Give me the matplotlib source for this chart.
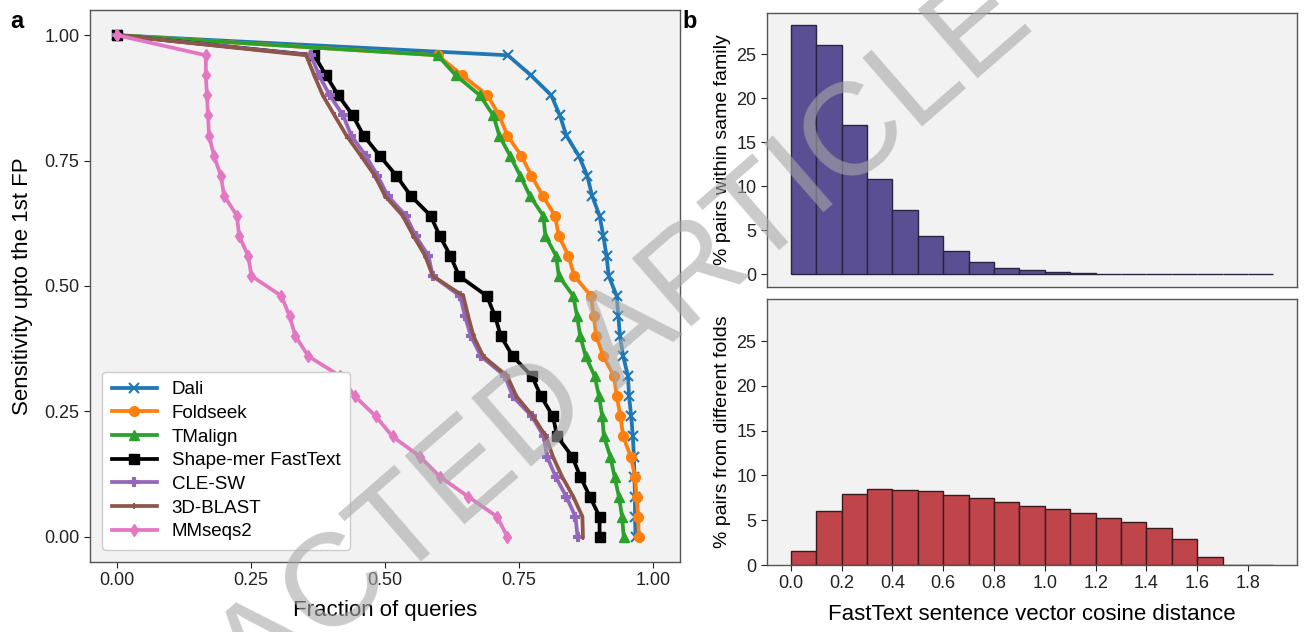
import numpy as np
import matplotlib
matplotlib.use("Agg")
import matplotlib.pyplot as plt

plt.rcParams['font.family'] = ['Liberation Sans', 'DejaVu Sans']

# =========================================================
# DATA  (panel a: sensitivity levels, 1.00 down to 0.00 in 0.04 steps)
# =========================================================
SENS = [1.00, 0.96, 0.92, 0.88, 0.84, 0.80, 0.76, 0.72, 0.68, 0.64, 0.60, 0.56, 0.52,
        0.48, 0.44, 0.40, 0.36, 0.32, 0.28, 0.24, 0.20, 0.16, 0.12, 0.08, 0.04, 0.00]

dali = [0.0, 0.729, 0.772, 0.810, 0.826, 0.838, 0.861, 0.877, 0.886, 0.900, 0.907, 0.913, 0.917,
        0.932, 0.935, 0.938, 0.944, 0.953, 0.955, 0.959, 0.962, 0.964, 0.965, 0.966, 0.966, 0.967]
foldseek = [0.0, 0.598, 0.644, 0.691, 0.713, 0.728, 0.754, 0.773, 0.794, 0.817, 0.824, 0.842, 0.853,
            0.884, 0.889, 0.894, 0.907, 0.927, 0.932, 0.939, 0.944, 0.958, 0.966, 0.969, 0.972, 0.973]
tmalign = [0.0, 0.598, 0.632, 0.677, 0.702, 0.713, 0.733, 0.752, 0.770, 0.795, 0.799, 0.819, 0.824,
           0.851, 0.858, 0.864, 0.874, 0.891, 0.899, 0.905, 0.908, 0.920, 0.928, 0.936, 0.942, 0.945]
shapemer = [0.0, 0.368, 0.390, 0.413, 0.440, 0.460, 0.490, 0.521, 0.548, 0.585, 0.602, 0.622, 0.638,
            0.690, 0.705, 0.716, 0.738, 0.774, 0.791, 0.813, 0.821, 0.849, 0.864, 0.882, 0.900, 0.900]
clesw = [0.0, 0.362, 0.377, 0.397, 0.422, 0.437, 0.464, 0.486, 0.505, 0.539, 0.557, 0.581, 0.589,
         0.640, 0.649, 0.660, 0.679, 0.724, 0.738, 0.774, 0.796, 0.802, 0.818, 0.838, 0.855, 0.859]
blast3d = [0.0, 0.353, 0.368, 0.384, 0.406, 0.428, 0.455, 0.481, 0.500, 0.533, 0.553, 0.575, 0.589,
           0.646, 0.655, 0.665, 0.683, 0.728, 0.745, 0.776, 0.800, 0.813, 0.830, 0.851, 0.868, 0.869]
mmseqs2 = [0.0, 0.166, 0.166, 0.168, 0.170, 0.172, 0.181, 0.194, 0.200, 0.224, 0.228, 0.245, 0.251,
           0.307, 0.322, 0.333, 0.357, 0.417, 0.444, 0.483, 0.514, 0.565, 0.602, 0.655, 0.709, 0.728]

METHODS = ["Dali", "Foldseek", "TMalign", "Shape-mer FastText", "CLE-SW", "3D-BLAST", "MMseqs2"]
SERIES = [dali, foldseek, tmalign, shapemer, clesw, blast3d, mmseqs2]

# panel b: histogram bins and % values
BIN_EDGES = [0.0, 0.1, 0.2, 0.3, 0.4, 0.5, 0.6, 0.7, 0.8, 0.9, 1.0,
             1.1, 1.2, 1.3, 1.4, 1.5, 1.6, 1.7, 1.8, 1.9]
same_family = [28.25, 26.05, 16.9, 10.8, 7.3, 4.4, 2.7, 1.45, 0.7, 0.45, 0.3,
               0.15, 0.08, 0.05, 0.03, 0.02, 0.02, 0.02, 0.02]
diff_folds = [1.57, 6.08, 7.95, 8.47, 8.40, 8.21, 7.84, 7.46, 7.05, 6.64, 6.27,
              5.82, 5.30, 4.81, 4.14, 2.91, 0.90, 0.05, 0.02]
XTICKS_B = [0.0, 0.2, 0.4, 0.6, 0.8, 1.0, 1.2, 1.4, 1.6, 1.8]

# =========================================================
# STYLE
# =========================================================
COLORS = ["#1f77b4", "#ff7f0e", "#2ca02c", "#000000", "#9467bd", "#8c564b", "#e377c2"]
MARKERS = ["x", "o", "^", "s", "P", "|", "d"]
MSIZES = [7, 7, 7, 7, 6, 5, 6]
BG = "#f2f2f2"
SPINE = "#555555"


def style_axes(ax):
    ax.set_facecolor(BG)
    for s in ax.spines.values():
        s.set_color(SPINE)
        s.set_linewidth(1.0)
    ax.tick_params(colors="#222222", labelsize=13, length=4, width=0.8)


fig = plt.figure(figsize=(13.04, 6.32), dpi=100)

# ---------------------------------------------------------
# panel a
# ---------------------------------------------------------
ax = fig.add_axes([0.069, 0.111, 0.4525, 0.873])
style_axes(ax)
for name, xs, c, m, ms in zip(METHODS, SERIES, COLORS, MARKERS, MSIZES):
    ax.plot(xs, SENS, color=c, marker=m, markersize=ms, linewidth=2.7,
            markeredgewidth=1.5 if m in ("x", "|", "P") else 1.0, label=name)
ax.set_xlim(-0.05, 1.05)
ax.set_ylim(-0.05, 1.05)
ax.set_xticks([0.0, 0.25, 0.5, 0.75, 1.0])
ax.set_yticks([0.0, 0.25, 0.5, 0.75, 1.0])
ax.set_xticklabels(["0.00", "0.25", "0.50", "0.75", "1.00"])
ax.set_yticklabels(["0.00", "0.25", "0.50", "0.75", "1.00"])
ax.set_xlabel("Fraction of queries", fontsize=16, labelpad=8)
ax.set_ylabel("Sensitivity upto the 1st FP", fontsize=16, labelpad=8)
leg = ax.legend(loc="lower left", fontsize=13.5, frameon=True, fancybox=True,
                handlelength=2.4, borderpad=0.5, labelspacing=0.35,
                bbox_to_anchor=(0.005, 0.005))
leg.get_frame().set_facecolor("white")
leg.get_frame().set_edgecolor("#cccccc")
leg.get_frame().set_alpha(1.0)

# ---------------------------------------------------------
# panel b
# ---------------------------------------------------------
left_edges = BIN_EDGES[:-1]
widths = np.diff(BIN_EDGES)

ax1 = fig.add_axes([0.588, 0.546, 0.407, 0.434])
style_axes(ax1)
ax1.bar(left_edges, same_family, width=widths, align="edge",
        color="#5a4f93", edgecolor="#2a2440", linewidth=1.0)
ax1.set_xlim(-0.095, 1.995)
ax1.set_ylim(-1.415, 29.7)
ax1.set_yticks([0, 5, 10, 15, 20, 25])
ax1.set_xticks([])
ax1.set_ylabel("% pairs within same family", fontsize=14)

ax2 = fig.add_axes([0.588, 0.106, 0.407, 0.421])
style_axes(ax2)
ax2.bar(left_edges, diff_folds, width=widths, align="edge",
        color="#c0454b", edgecolor="#3a1a1a", linewidth=1.0)
ax2.set_xlim(-0.095, 1.995)
ax2.set_ylim(0, 29.7)
ax2.set_yticks([0, 5, 10, 15, 20, 25])
ax2.set_xticks(XTICKS_B)
ax2.set_xticklabels([f"{v:.1f}" for v in XTICKS_B])
ax2.set_ylabel("% pairs from different folds", fontsize=14)
ax2.set_xlabel("FastText sentence vector cosine distance", fontsize=16, labelpad=8)

# panel letters
fig.text(0.008, 0.955, "a", fontsize=17, fontweight="bold")
fig.text(0.523, 0.955, "b", fontsize=17, fontweight="bold")

# watermark
fig.text(0.375, 0.275, "RETRACTED ARTICLE", fontsize=95, color="#a8a8a8",
         alpha=0.6, rotation=41, rotation_mode="anchor",
         ha="center", va="center", zorder=10)

fig.savefig("out.png", dpi=100)
